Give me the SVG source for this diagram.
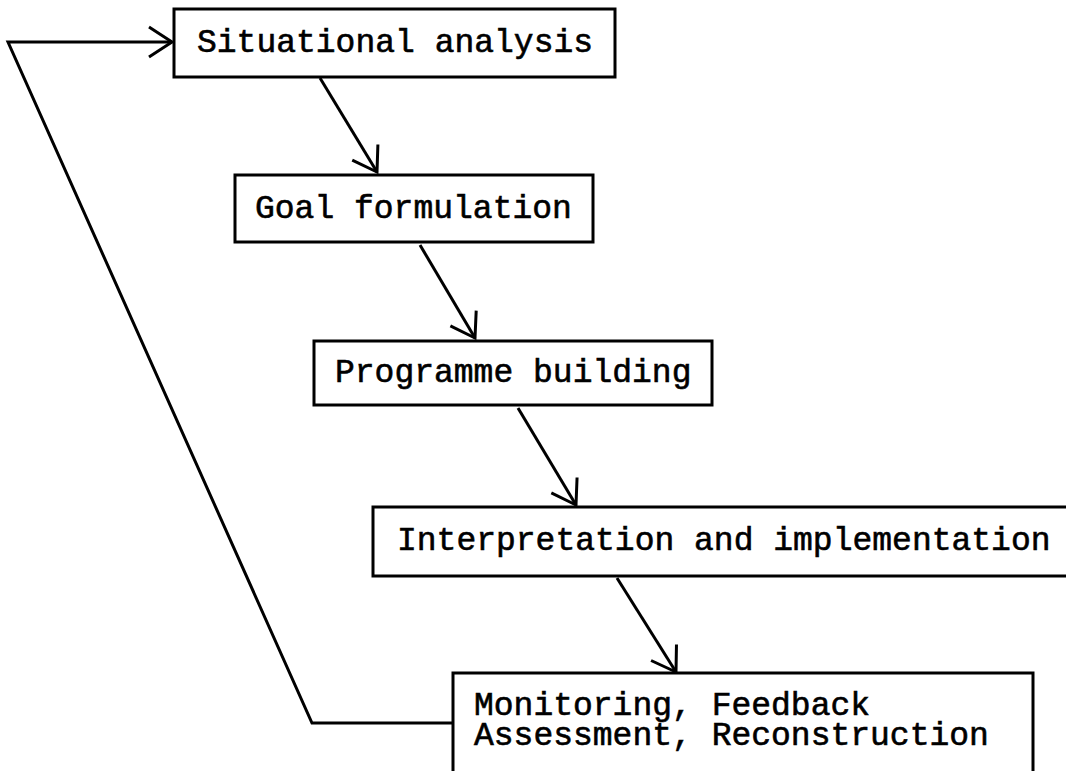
<svg xmlns="http://www.w3.org/2000/svg" width="1066" height="771" viewBox="0 0 1066 771">
  <style>
    .box { fill: #fff; stroke: #000; stroke-width: 3; }
    .lbl { font-family: "Liberation Mono", "Courier New", monospace; font-size: 33px; fill: #000; stroke: #000; stroke-width: 0.6; }
    .conn { fill: none; stroke: #000; stroke-width: 3; stroke-linejoin: miter; marker-end: url(#arr); }
  </style>
  <defs>
    <marker id="arr" viewBox="-30 -20 34 40" refX="0" refY="0" markerWidth="34" markerHeight="40" markerUnits="userSpaceOnUse" orient="auto" overflow="visible">
      <path d="M-23,-15 L0,0 L-23,15" fill="none" stroke="#000" stroke-width="3" stroke-linejoin="miter"/>
    </marker>
  </defs>
  <rect width="1066" height="771" fill="#fff"/>

  <g id="connectors">
    <path class="conn" d="M453,723 L312,723 L8,42 L172,42"/>
    <path class="conn" d="M320,78 L377,172"/>
    <path class="conn" d="M420,245 L475,338"/>
    <path class="conn" d="M518,408 L576,505"/>
    <path class="conn" d="M617,578 L676,672"/>
  </g>

  <g id="n1">
    <rect class="box" x="174" y="9" width="441" height="68"/>
    <text class="lbl" x="197" y="52">Situational analysis</text>
  </g>
  <g id="n2">
    <rect class="box" x="235" y="175" width="358" height="67"/>
    <text class="lbl" x="255" y="218">Goal formulation</text>
  </g>
  <g id="n3">
    <rect class="box" x="314" y="341" width="398" height="64"/>
    <text class="lbl" x="335" y="382">Programme building</text>
  </g>
  <g id="n4">
    <rect class="box" x="373" y="507" width="720" height="69"/>
    <text class="lbl" x="397" y="550">Interpretation and implementation</text>
  </g>
  <g id="n5">
    <rect class="box" x="453" y="673" width="580" height="130"/>
    <text class="lbl" x="474" y="715">Monitoring, Feedback</text>
    <text class="lbl" x="474" y="745">Assessment, Reconstruction</text>
  </g>
</svg>
